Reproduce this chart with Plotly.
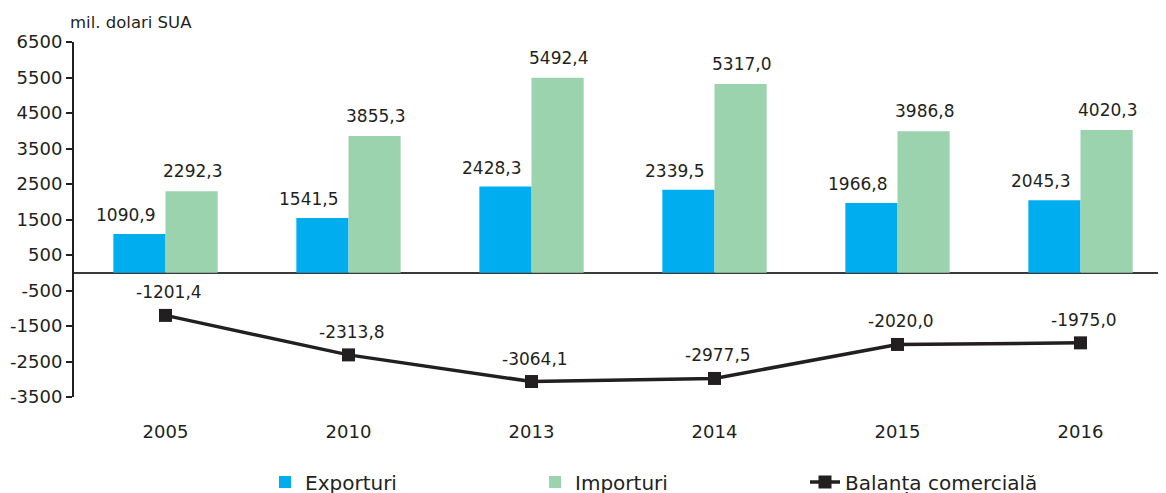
import plotly.graph_objects as go

years = ["2005", "2010", "2013", "2014", "2015", "2016"]
exporturi = [1090.9, 1541.5, 2428.3, 2339.5, 1966.8, 2045.3]
importuri = [2292.3, 3855.3, 5492.4, 5317.0, 3986.8, 4020.3]
balanta = [-1201.4, -2313.8, -3064.1, -2977.5, -2020.0, -1975.0]
y_ticks = [6500, 5500, 4500, 3500, 2500, 1500, 500, -500, -1500, -2500, -3500]

FONT = "DejaVu Sans"
DARK = "#231f20"
BLUE = "#00AEEF"
GREEN = "#9BD3AE"

def fmt(v):
    return f"{v:.1f}".replace(".", ",")

idx = list(range(len(years)))
BW = 0.285

# page body has an 8px margin; compensate so the plot sits where the reference does
PLOT_W = 1100
PLOT_H = 355

def px(x):
    return (x - 74) / PLOT_W

def py(y):
    return (397 - y) / PLOT_H

fig = go.Figure()
fig.add_trace(go.Bar(x=idx, y=exporturi, name="Exporturi", marker_color=BLUE,
                     offset=-BW, width=BW, marker_line_width=0))
fig.add_trace(go.Bar(x=idx, y=importuri, name="Importuri", marker_color=GREEN,
                     offset=0, width=BW, marker_line_width=0))
fig.add_trace(go.Scatter(x=idx, y=balanta, name="Balanța comercială", mode="lines+markers",
                         line=dict(color=DARK, width=3.5),
                         marker=dict(symbol="square", size=13, color=DARK)))

lab_font = dict(family=FONT, size=17, color=DARK)
ann = []
for i in idx:
    ann.append(dict(x=i - BW / 2, y=exporturi[i], text=fmt(exporturi[i]), showarrow=False,
                    xref="x", yref="y", yshift=19, xshift=-14, font=lab_font))
    ann.append(dict(x=i + BW / 2, y=importuri[i], text=fmt(importuri[i]), showarrow=False,
                    xref="x", yref="y", yshift=20, xshift=1, font=lab_font))
    ann.append(dict(x=i, y=balanta[i], text=fmt(balanta[i]), showarrow=False,
                    xref="x", yref="y", yshift=23, xshift=3, font=lab_font))
ann.append(dict(x=px(68), y=py(22), xref="paper", yref="paper", text="mil. dolari SUA",
                showarrow=False, xanchor="left", yanchor="middle",
                font=dict(family=FONT, size=16.5, color=DARK)))

fig.update_layout(
    width=1166, height=501,
    margin=dict(l=66, r=0, t=34, b=112),
    paper_bgcolor="white", plot_bgcolor="white",
    barmode="overlay",
    showlegend=True,
    legend=dict(orientation="h", x=px(265), xanchor="left", y=py(482), yanchor="middle",
                font=dict(family=FONT, size=20, color=DARK), entrywidth=225,
                entrywidthmode="pixels"),
    annotations=ann,
    font=dict(family=FONT, color=DARK),
)
fig.update_xaxes(range=[-0.5, -0.5 + PLOT_W / 183], tickvals=idx, ticktext=years,
                 showline=False, ticks="", showgrid=False, zeroline=False,
                 ticklabelstandoff=22, tickfont=dict(family=FONT, size=18, color=DARK))
fig.update_yaxes(range=[-3500, 6500], tickvals=y_ticks, ticktext=[str(v) for v in y_ticks],
                 showline=True, linecolor=DARK, linewidth=2, ticks="outside", ticklen=6,
                 tickwidth=1.5, tickcolor=DARK, showgrid=False,
                 zeroline=True, zerolinecolor="#3a3a3a", zerolinewidth=2,
                 tickfont=dict(family=FONT, size=18, color=DARK))

fig.write_html("out.html")
